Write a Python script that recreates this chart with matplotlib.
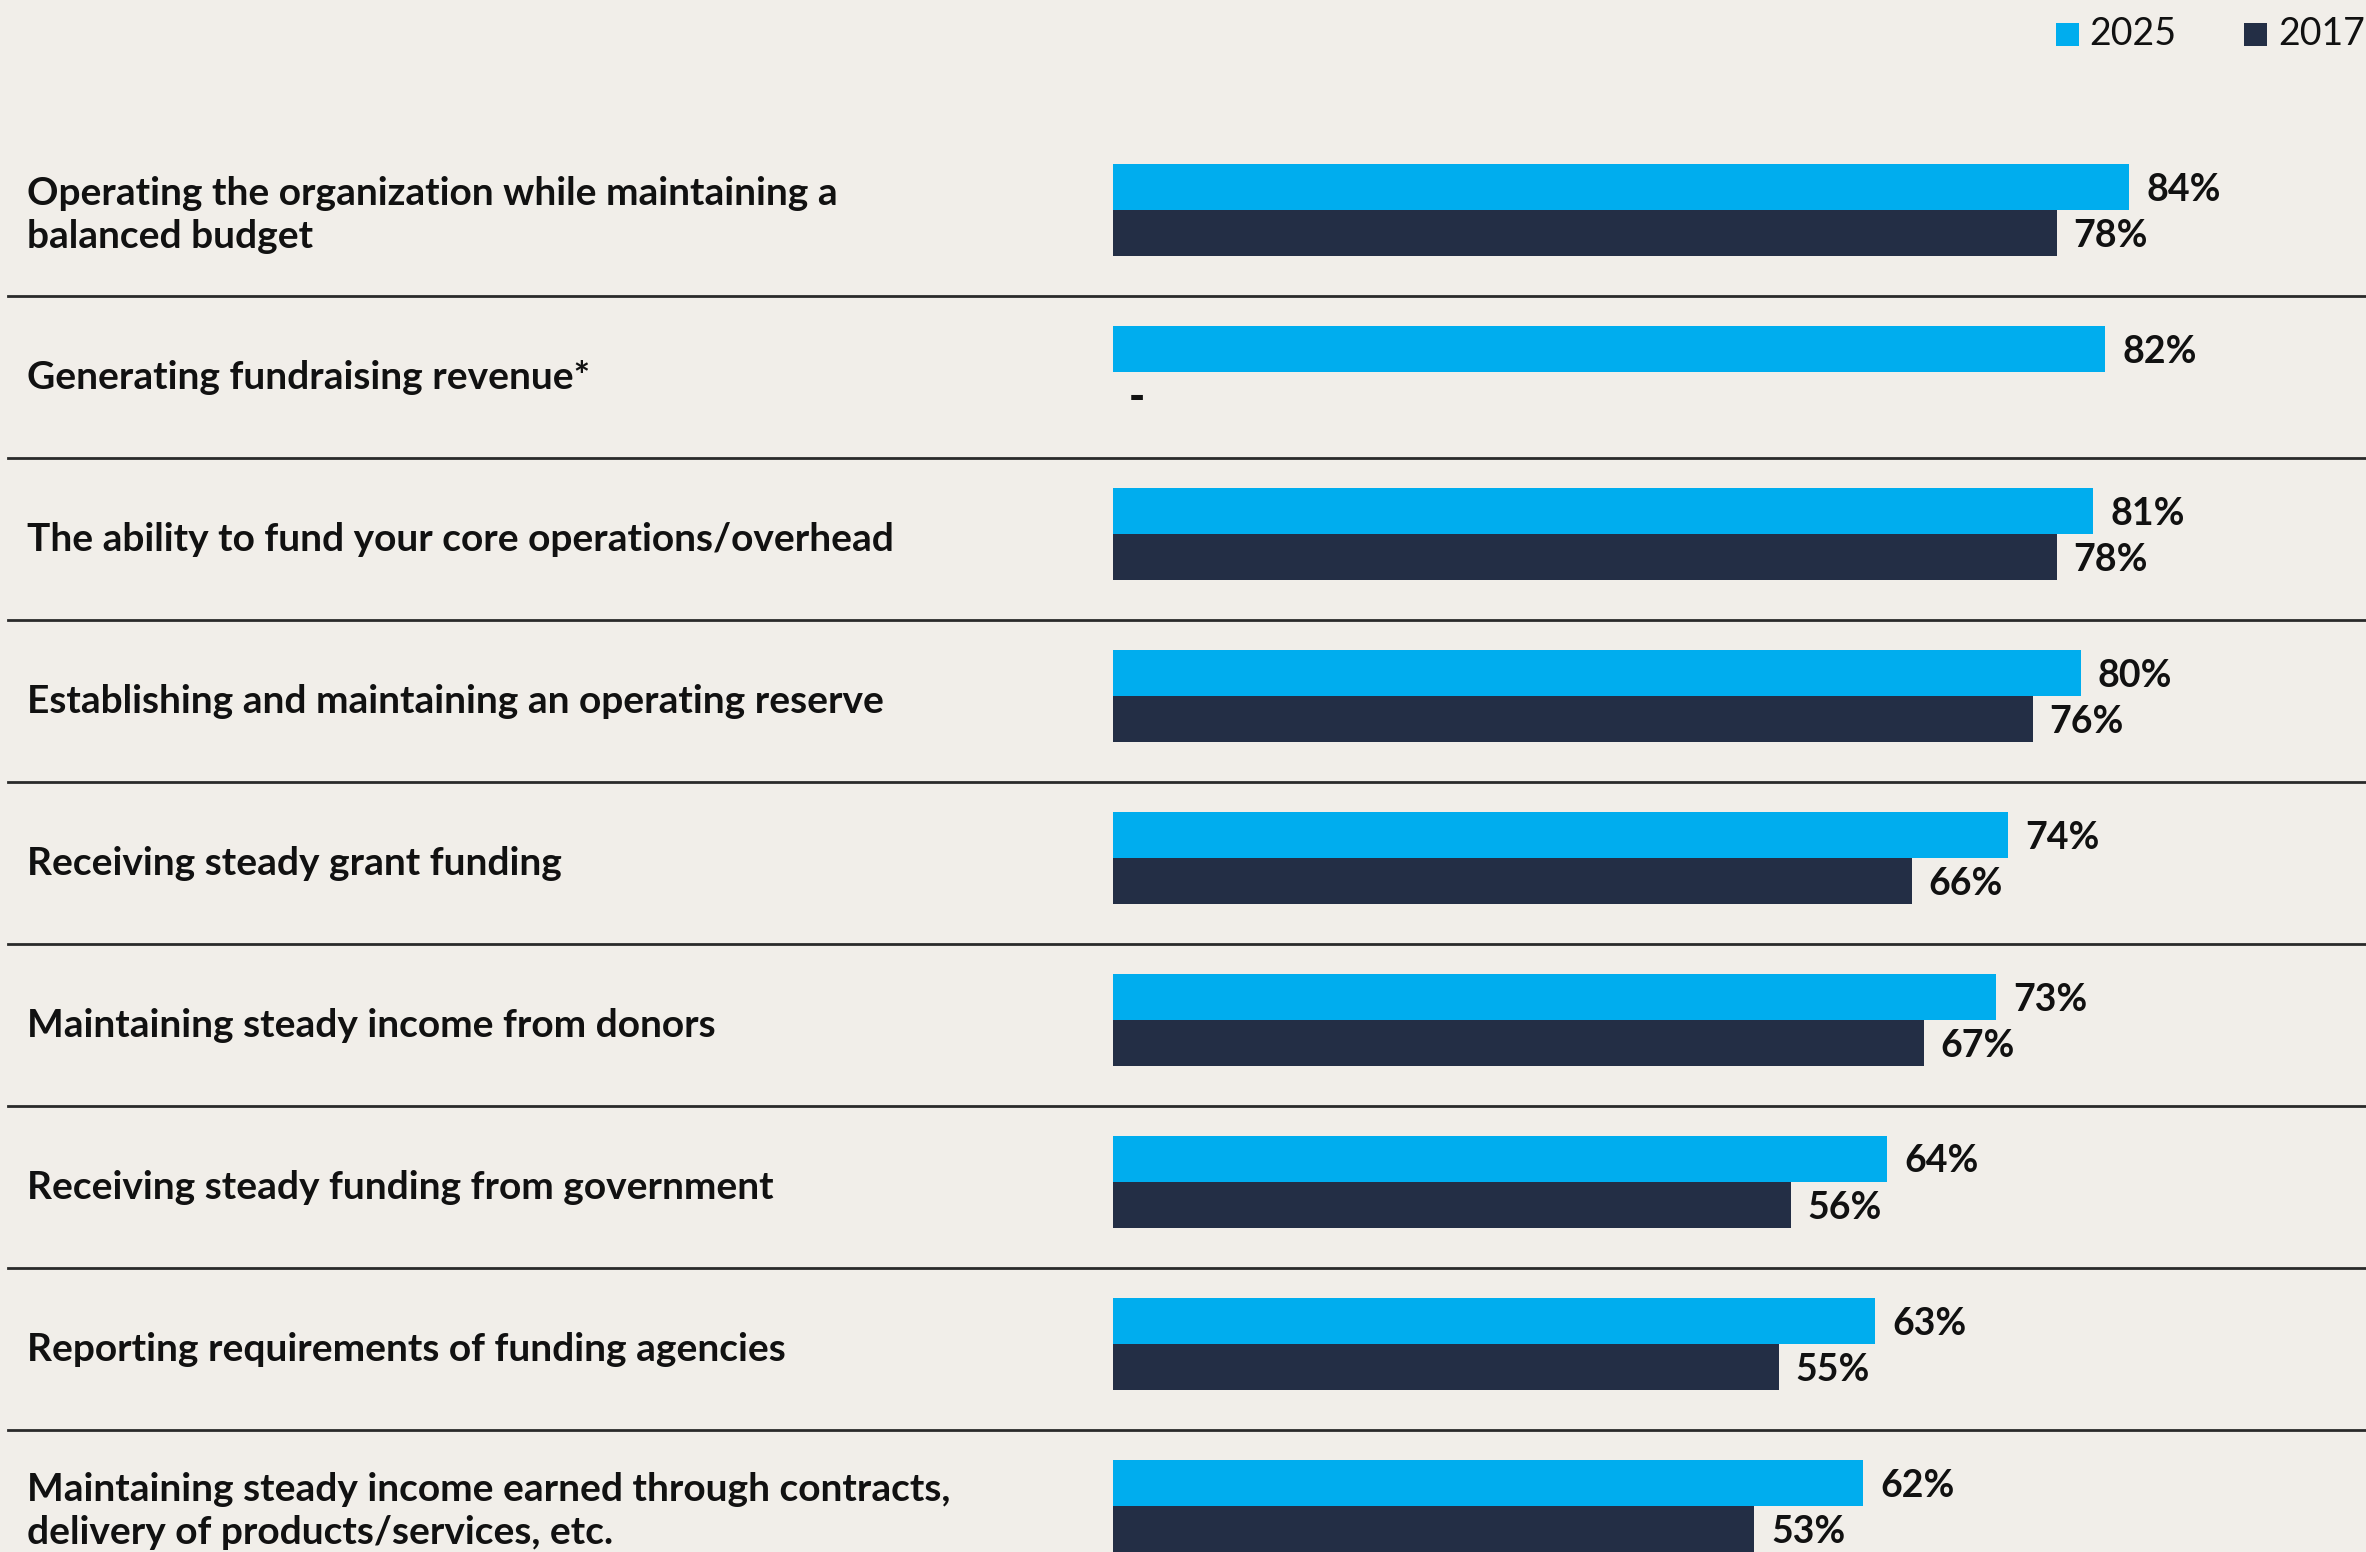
import matplotlib
matplotlib.use("Agg")
import matplotlib.pyplot as plt
from matplotlib.patches import Rectangle
from matplotlib.lines import Line2D
from matplotlib.transforms import blended_transform_factory

# Survey items and shares (percent); None = not asked in that year
categories = [
    "Operating the organization while maintaining a\nbalanced budget",
    "Generating fundraising revenue*",
    "The ability to fund your core operations/overhead",
    "Establishing and maintaining an operating reserve",
    "Receiving steady grant funding",
    "Maintaining steady income from donors",
    "Receiving steady funding from government",
    "Reporting requirements of funding agencies",
    "Maintaining steady income earned through contracts,\ndelivery of products/services, etc.",
]
values_2025 = [84, 82, 81, 80, 74, 73, 64, 63, 62]
values_2017 = [78, None, 78, 76, 66, 67, 56, 55, 53]
series_labels = ["2025", "2017"]

BG = "#F1EEE9"
BLUE = "#00ADEE"
NAVY = "#232E45"
INK = "#111111"
FONT = "Lato"

W, H = 2366, 1552
DPI = 100
fig = plt.figure(figsize=(W / DPI, H / DPI), dpi=DPI, facecolor=BG)

# bar area: 0-100% spans 1210 px starting at x=1113
x0_px, span_px = 1113, 1210
row_px, first_center_px = 162.0, 209.5
ax = fig.add_axes([x0_px / W, 0, span_px / W, 1])
ax.set_facecolor("none")
ax.set_xlim(0, 100)
ax.set_ylim((H - first_center_px) / row_px, -first_center_px / row_px)
ax.axis("off")

n = len(categories)
bh = 46 / row_px
ys = list(range(n))

ax.barh([y - bh / 2 for y in ys], values_2025, height=bh, color=BLUE, linewidth=0)
v17 = [v if v is not None else 0 for v in values_2017]
ax.barh([y + bh / 2 for y in ys], v17, height=bh, color=NAVY, linewidth=0)

fs = 27
lab_fs = 28
dy = 3 / row_px  # small downward nudge for optical centring
for y, v in zip(ys, values_2025):
    ax.text(v + 1.4, y - bh / 2 + dy, f"{v}%", va="center", ha="left",
            fontsize=fs, fontweight="bold", color=INK, family=FONT)
for y, v in zip(ys, values_2017):
    if v is None:
        ax.text(1.3, y + bh / 2 + dy, "-", va="center", ha="left",
                fontsize=fs + 4, fontweight="heavy", color=INK, family=FONT)
    else:
        ax.text(v + 1.4, y + bh / 2 + dy, f"{v}%", va="center", ha="left",
                fontsize=fs, fontweight="bold", color=INK, family=FONT)

# category labels and row separators
tr = blended_transform_factory(fig.transFigure, ax.transData)
for y, lab in zip(ys, categories):
    fig.text(27 / W, y + 0.035, lab, transform=tr, va="center", ha="left",
             fontsize=lab_fs, fontweight="bold", color=INK, family=FONT,
             linespacing=1.28)
for y in ys[:-1]:
    fig.add_artist(Line2D([8 / W, 1], [y + 86.5 / row_px] * 2, transform=tr,
                          color="#2a2a2a", linewidth=2))

# legend
for (sx, tx), col, lab in zip([(2056, 2089), (2244, 2278)], [BLUE, NAVY], series_labels):
    fig.add_artist(Rectangle((sx / W, 1 - 46 / H), 23 / W, 23 / H,
                             transform=fig.transFigure, color=col, linewidth=0))
    fig.text(tx / W, 1 - 34 / H, lab, va="center", ha="left", fontsize=fs,
             color=INK, family=FONT)

fig.savefig("out.png", dpi=DPI, facecolor=BG)
